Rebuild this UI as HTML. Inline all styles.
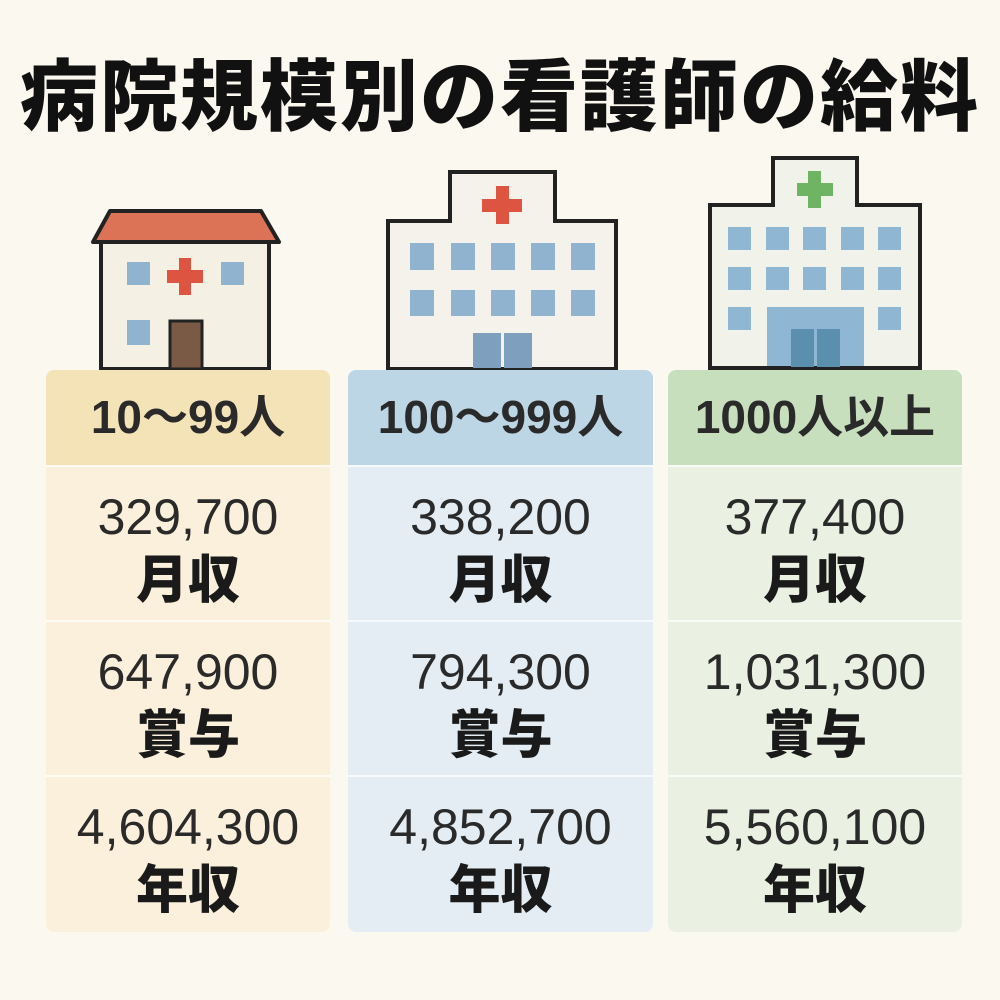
<!DOCTYPE html>
<html><head><meta charset="utf-8"><style>
body{margin:0;width:1000px;height:1000px;background:#fbf8f0;position:relative;overflow:hidden;font-family:"Liberation Sans","Noto Sans CJK JP",sans-serif;color:#222}
.t{position:absolute;left:0;width:1000px;top:52px;text-align:center;font-size:78px;font-weight:900;letter-spacing:2px;line-height:90px;color:#111}
.col{position:absolute;top:370px;height:562px;border-radius:8px;overflow:hidden}
.h{height:95px;line-height:95px;text-align:center;font-size:46px;font-weight:700;color:#2a2a2a}
.r{height:155px;border-top:2px solid rgba(255,255,255,.7);text-align:center;box-sizing:border-box}
.v{font-size:50px;line-height:56px;padding-top:22px;color:#2a2a2a}
.l{font-size:52px;font-weight:900;line-height:64px;margin-top:4px;color:#1a1a1a}
.a{position:absolute}
</style></head><body>
<div class="t">病院規模別の看護師の給料</div>

<svg class="a" style="left:0;top:0" width="1000" height="380">
<rect x="101" y="240" width="168" height="129" fill="#f4f0e4" stroke="#222" stroke-width="4"/>
<polygon points="110,211 261,211 279,242 93,242" fill="#dd7356" stroke="#222" stroke-width="4" stroke-linejoin="round"/>
<rect x="127" y="262" width="23" height="23" fill="#90b4d0"/>
<rect x="221" y="262" width="23" height="23" fill="#90b4d0"/>
<rect x="127" y="320" width="23" height="25" fill="#90b4d0"/>
<rect x="179" y="258" width="12" height="37" fill="#dd5540"/><rect x="167" y="270" width="36" height="13" fill="#dd5540"/>
<rect x="170" y="321" width="32" height="48" fill="#7a5a44" stroke="#222" stroke-width="3"/>
<path d="M388,369 V221 H450 V172 H555 V221 H616 V369 Z" fill="#f4f2ea" stroke="#222" stroke-width="4"/>
<rect x="496" y="186" width="13" height="38" fill="#dd5540"/><rect x="482" y="199" width="40" height="13" fill="#dd5540"/>
<g fill="#90b4d0">
<rect x="410" y="243" width="24" height="27"/><rect x="451" y="243" width="24" height="27"/><rect x="491" y="243" width="24" height="27"/><rect x="531" y="243" width="24" height="27"/><rect x="571" y="243" width="24" height="27"/>
<rect x="410" y="290" width="24" height="26"/><rect x="451" y="290" width="24" height="26"/><rect x="491" y="290" width="24" height="26"/><rect x="531" y="290" width="24" height="26"/><rect x="571" y="290" width="24" height="26"/>
</g>
<rect x="473" y="333" width="28" height="35" fill="#7f9fbf"/><rect x="504" y="333" width="28" height="35" fill="#7f9fbf"/>
<path d="M710,368 V205 H773 V158 H857 V205 H920 V368 Z" fill="#f1f2ea" stroke="#222" stroke-width="4"/>
<rect x="808" y="171" width="13" height="37" fill="#6fb463"/><rect x="797" y="183" width="36" height="13" fill="#6fb463"/>
<g fill="#8fb7d3">
<rect x="728" y="227" width="23" height="23"/><rect x="766" y="227" width="23" height="23"/><rect x="803" y="227" width="23" height="23"/><rect x="841" y="227" width="23" height="23"/><rect x="878" y="227" width="23" height="23"/>
<rect x="728" y="267" width="23" height="23"/><rect x="766" y="267" width="23" height="23"/><rect x="803" y="267" width="23" height="23"/><rect x="841" y="267" width="23" height="23"/><rect x="878" y="267" width="23" height="23"/>
<rect x="728" y="307" width="23" height="23"/><rect x="878" y="307" width="23" height="23"/>
<rect x="767" y="307" width="97" height="59"/>
</g>
<rect x="791" y="329" width="23" height="38" fill="#5b8fae"/><rect x="817" y="329" width="23" height="38" fill="#5b8fae"/>
</svg>

<div class="col" style="left:46px;width:284px;background:#fbf0dc">
<div class="h" style="background:#f5e3b8">10～99人</div>
<div class="r"><div class="v">329,700</div><div class="l">月収</div></div>
<div class="r"><div class="v">647,900</div><div class="l">賞与</div></div>
<div class="r"><div class="v">4,604,300</div><div class="l">年収</div></div>
</div>
<div class="col" style="left:348px;width:305px;background:#e3edf3">
<div class="h" style="background:#bcd6e6">100～999人</div>
<div class="r"><div class="v">338,200</div><div class="l">月収</div></div>
<div class="r"><div class="v">794,300</div><div class="l">賞与</div></div>
<div class="r"><div class="v">4,852,700</div><div class="l">年収</div></div>
</div>
<div class="col" style="left:668px;width:294px;background:#eaf1e3">
<div class="h" style="background:#c8dfbe">1000人以上</div>
<div class="r"><div class="v">377,400</div><div class="l">月収</div></div>
<div class="r"><div class="v">1,031,300</div><div class="l">賞与</div></div>
<div class="r"><div class="v">5,560,100</div><div class="l">年収</div></div>
</div>
</body></html>
